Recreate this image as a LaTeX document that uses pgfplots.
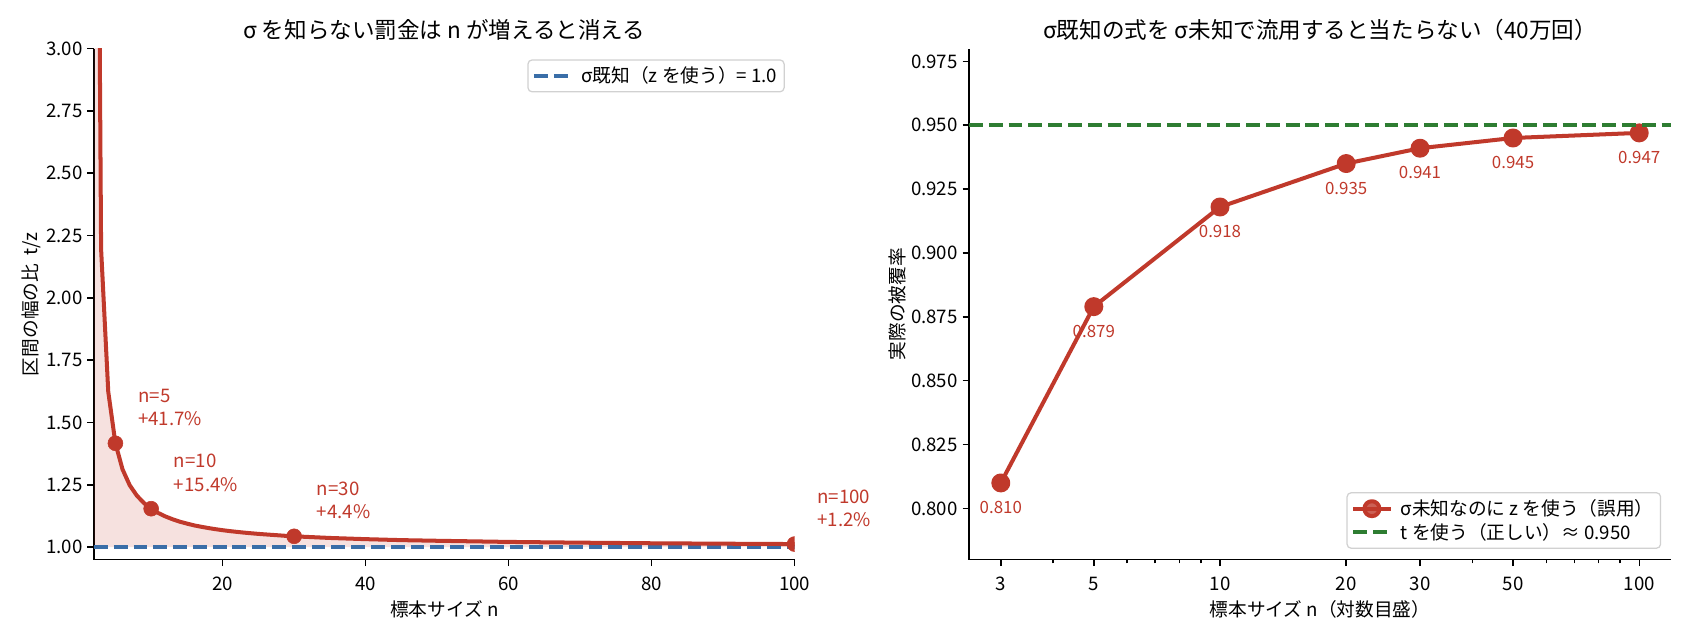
\documentclass[border=0pt]{standalone}
\usepackage{fontspec}
\setmainfont{Noto Sans CJK JP}
\usepackage{pgfplots}
\usepackage{pgfplotstable}
\pgfplotsset{compat=1.18}

\definecolor{cred}{RGB}{192,57,43}
\definecolor{cblue}{RGB}{58,110,168}
\definecolor{cgreen}{RGB}{46,125,50}

% t/z ratio of the interval width
\pgfplotstableread{
n r
2 6.4829
3 2.1954
4 1.6236
5 1.4166
6 1.3118
7 1.2484
8 1.2067
9 1.1766
10 1.1541
11 1.1368
12 1.1230
13 1.1118
14 1.1021
15 1.0944
16 1.0873
17 1.0817
18 1.0766
19 1.0720
20 1.0679
21 1.0643
22 1.0612
23 1.0582
24 1.0556
25 1.0531
26 1.0510
27 1.0490
28 1.0470
29 1.0449
30 1.0434
35 1.0368
40 1.0320
45 1.0281
50 1.0255
60 1.0209
70 1.0179
80 1.0155
90 1.0138
100 1.0123
}\ratio

% coverage when z is used with unknown sigma
\pgfplotstableread{
n cov
3 0.810
5 0.879
10 0.918
20 0.935
30 0.941
50 0.945
100 0.947
}\cover

\pgfplotsset{
  panel/.style={
    scale only axis,
    axis x line*=bottom, axis y line*=left,
    axis line style={line width=1.05pt},
    every tick/.style={line width=1.05pt, black},
    tick align=outside,
    major tick length=4.7pt, minor tick length=2.7pt,
    tick label style={font=\fontsize{13.5}{16}\selectfont},
    xticklabel style={yshift=-4.5pt},
    label style={font=\fontsize{13.5}{16}\selectfont},
    ylabel style={yshift=-3pt},
    title style={font=\fontsize{16.3}{19}\selectfont, yshift=-3.5pt},
    /pgf/number format/assume math mode=true,
    clip mode=individual,
    clip marker paths=true,
    legend cell align=left,
    legend style={font=\fontsize{13.5}{16}\selectfont, draw=black!18,
      rounded corners=3pt, line width=0.9pt, fill=white, fill opacity=0.8,
      text opacity=1, inner xsep=3pt, inner ysep=3pt},
  },
  longline/.style={legend image code/.code={
    \draw[mark repeat=2, mark phase=2, ##1] plot coordinates {(0pt,0pt) (13.5pt,0pt) (27pt,0pt)};
    \path (31pt,0pt);}},
}

\begin{document}
\begin{tikzpicture}
\path[use as bounding box] (-67.9pt,-56pt) rectangle (1153.4pt,404.4pt);

\begin{axis}[panel, longline,
    width=506.3pt, height=369.3pt,
    xmin=2, xmax=100, ymin=0.95, ymax=3,
    xtick={20,40,60,80,100},
    ytick={1,1.25,1.5,1.75,2,2.25,2.5,2.75,3},
    yticklabel style={/pgf/number format/.cd, fixed, fixed zerofill, precision=2},
    xlabel={標本サイズ n},
    ylabel={区間の幅の比\ \ t/z},
    title={σ を知らない罰金は n が増えると消える},
    legend style={at={(rel axis cs:0.986,0.979)}, anchor=north east},
]
% shaded area between the curve and 1 (the path is closed along y=1)
\addplot[fill=cred, fill opacity=0.15, draw=none, forget plot] table[x=n, y=r] {\ratio}
  -- (axis cs:100,1) -- (axis cs:2,1) -- cycle;
\addplot[cblue, line width=2.7pt, dash pattern=on 10pt off 4.3pt] coordinates {(2,1) (100,1)};
\addlegendentry{σ既知（z を使う）= 1.0}
\addplot[cred, line width=2.9pt, line join=round, forget plot] table[x=n, y=r] {\ratio};
\addplot[cred, only marks, mark=*, mark size=5.4pt, forget plot] coordinates {(5,1.4166) (10,1.1541) (30,1.0434) (100,1.0123)};
\begin{scope}[every node/.style={anchor=south west, inner sep=0pt, align=left,
    text=cred, font=\fontsize{13.5}{17}\selectfont, xshift=16.3pt, yshift=12.3pt}]
\node at (axis cs:5,1.4166) {n=5\\+41.7\%};
\node at (axis cs:10,1.1541) {n=10\\+15.4\%};
\node at (axis cs:30,1.0434) {n=30\\+4.4\%};
\node at (axis cs:100,1.0123) {n=100\\+1.2\%};
\end{scope}
\end{axis}

\begin{axis}[panel, longline, xshift=632.4pt,
    width=507.3pt, height=369.3pt,
    xmode=log, xmin=2.52, xmax=119.1, ymin=0.78, ymax=0.98,
    xtick={3,5,10,20,30,50,100},
    xticklabels={3,5,10,20,30,50,100},
    minor xtick={4,6,7,8,9,40,60,70,80,90},
    ytick={0.8,0.825,0.85,0.875,0.9,0.925,0.95,0.975},
    yticklabel style={/pgf/number format/.cd, fixed, fixed zerofill, precision=3},
    xlabel={標本サイズ n（対数目盛）},
    ylabel={実際の被覆率},
    title={σ既知の式を σ未知で流用すると当たらない（40万回）},
    legend style={at={(rel axis cs:0.986,0.021)}, anchor=south east},
]
\addplot[cred, line width=2.9pt, line join=round, mark=*, mark size=5.4pt] table[x=n, y=cov] {\cover};
\addlegendentry{σ未知なのに z を使う（誤用）}
\addplot[cgreen, line width=2.7pt, dash pattern=on 10pt off 4.3pt] coordinates {(2.52,0.95) (119.1,0.95)};
\addlegendentry{t を使う（正しい）≈ 0.950}
\begin{scope}[every node/.style={anchor=north, inner sep=0pt, text=cred,
    font=\fontsize{12.2}{14}\selectfont, yshift=-13pt}]
\node at (axis cs:3,0.810) {0.810};
\node at (axis cs:5,0.879) {0.879};
\node at (axis cs:10,0.918) {0.918};
\node at (axis cs:20,0.935) {0.935};
\node at (axis cs:30,0.941) {0.941};
\node at (axis cs:50,0.945) {0.945};
\node at (axis cs:100,0.947) {0.947};
\end{scope}
\end{axis}
\end{tikzpicture}
\end{document}
